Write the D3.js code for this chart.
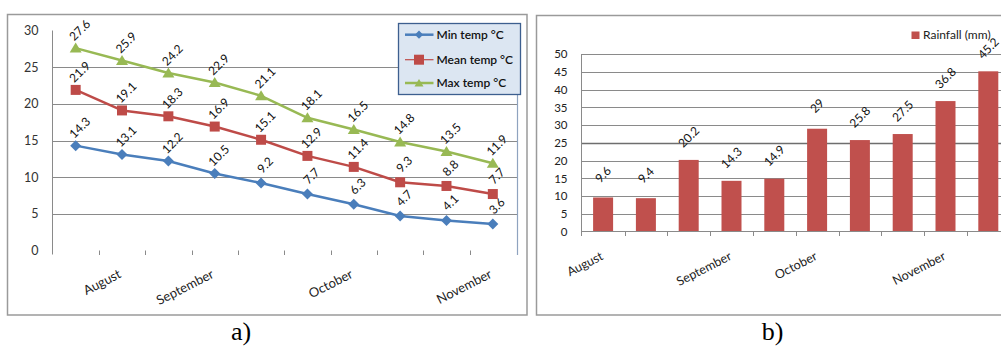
<!DOCTYPE html>
<html><head><meta charset="utf-8">
<script src="https://cdn.jsdelivr.net/npm/d3@7"></script>
<style>html,body{margin:0;padding:0;background:#fff;overflow:hidden}</style>
</head><body><svg id="c" width="1001" height="347"></svg>
<script>
const tempCategories = ["", "August", "", "September", "", "", "October", "", "", "November"];
const minTemp = [14.3, 13.1, 12.2, 10.5, 9.2, 7.7, 6.3, 4.7, 4.1, 3.6];
const meanTemp = [21.9, 19.1, 18.3, 16.9, 15.1, 12.9, 11.4, 9.3, 8.8, 7.7];
const maxTemp = [27.6, 25.9, 24.2, 22.9, 21.1, 18.1, 16.5, 14.8, 13.5, 11.9];
const tempSeriesNames = ["Min temp °C", "Mean temp °C", "Max temp °C"];
const tempTicks = [0, 5, 10, 15, 20, 25, 30];

const rainCategories = ["August", "", "", "September", "", "October", "", "", "November", ""];
const rainfall = [9.6, 9.4, 20.2, 14.3, 14.9, 29, 25.8, 27.5, 36.8, 45.2];
const rainSeriesName = "Rainfall (mm)";
const rainTicks = [0, 5, 10, 15, 20, 25, 30, 35, 40, 45, 50];

const captions = ["a)", "b)"];

const FONT = "Lato, 'Open Sans', sans-serif";
const GRID = "#8a8a8a";
const svg = d3.select("#c");

/* ---------------- chart a) ---------------- */
const gA = svg.append("g");
gA.append("rect").attr("x", 7.5).attr("y", 14.5).attr("width", 519.5).attr("height", 300.5)
  .attr("fill", "#fff").attr("stroke", "#9a9a9a").attr("stroke-width", 1.5);

const xL = d3.scaleBand().domain(d3.range(tempCategories.length)).range([52.5, 516]).padding(0);
const yL = d3.scaleLinear().domain([0, 30]).range([250.5, 30.5]);
const bwL = xL.bandwidth();
const cxL = i => xL(i) + bwL / 2;

gA.append("g").selectAll("line").data(tempTicks.filter(t => t > 0 && t < 30)).join("line")
  .attr("x1", 52.5).attr("x2", 517).attr("y1", d => Math.round(yL(d)) + 0.5).attr("y2", d => Math.round(yL(d)) + 0.5)
  .attr("stroke", GRID).attr("stroke-width", 1);
gA.append("line").attr("x1", 517.5).attr("x2", 517.5).attr("y1", 30).attr("y2", 255)
  .attr("stroke", "#8fa3bf").attr("stroke-width", 1.2);
gA.append("line").attr("x1", 52.5).attr("x2", 52.5).attr("y1", 30.5).attr("y2", 254.5)
  .attr("stroke", GRID).attr("stroke-width", 1);
gA.append("g").selectAll("line").data(d3.range(1, tempCategories.length)).join("line")
  .attr("x1", i => Math.round(xL(i)) + 0.5).attr("x2", i => Math.round(xL(i)) + 0.5)
  .attr("y1", 250.5).attr("y2", 255).attr("stroke", GRID);
const axL = gA.append("g").attr("transform", "translate(52.5,0)")
  .call(d3.axisLeft(yL).tickValues(tempTicks).tickSize(0).tickPadding(14));
axL.select(".domain").remove();
axL.selectAll("text").attr("font-family", FONT).attr("font-size", 12.5).attr("fill", "#333");
gA.append("g").selectAll("text").data(tempCategories.map((c, i) => ({c, i})).filter(d => d.c)).join("text")
  .attr("transform", d => `translate(${cxL(d.i)},277) rotate(-27)`)
  .attr("text-anchor", "end").attr("font-family", FONT).attr("font-size", 13).attr("fill", "#222")
  .text(d => d.c);

const seriesL = [
  {name: tempSeriesNames[0], vals: minTemp, color: "#4A7EBB", shape: "diamond", lw: 2.5},
  {name: tempSeriesNames[1], vals: meanTemp, color: "#BE4B48", shape: "square", lw: 2.5},
  {name: tempSeriesNames[2], vals: maxTemp, color: "#98B954", shape: "triangle", lw: 2.5}
];
function markerPath(shape) {
  if (shape === "diamond") return "M0,-5.5L5.5,0L0,5.5L-5.5,0Z";
  if (shape === "square") return "M-5,-5H5V5H-5Z";
  return "M0,-5.5L6,4.5H-6Z";
}
const line = d3.line().x((d, i) => cxL(i)).y(d => yL(d));
seriesL.forEach(s => {
  gA.append("path").datum(s.vals).attr("d", line).attr("fill", "none")
    .attr("stroke", s.color).attr("stroke-width", s.lw).attr("stroke-linejoin", "round");
});
seriesL.forEach(s => {
  gA.append("g").selectAll("path").data(s.vals).join("path")
    .attr("transform", (d, i) => `translate(${cxL(i)},${yL(d)})`)
    .attr("d", markerPath(s.shape)).attr("fill", s.color);
});
seriesL.forEach(s => {
  gA.append("g").selectAll("text").data(s.vals).join("text")
    .attr("transform", (d, i) => `translate(${cxL(i) + 7},${yL(d) - 15}) rotate(-45)`)
    .attr("text-anchor", "middle").attr("font-family", FONT).attr("font-size", 12).attr("fill", "#111")
    .text(d => d);
});
const lg = gA.append("g");
lg.append("rect").attr("x", 398.5).attr("y", 23.5).attr("width", 122).attr("height", 71)
  .attr("fill", "#dce6f2").attr("stroke", "#3d5f8f").attr("stroke-width", 1.3);
const legY = [34.7, 59.7, 83];
seriesL.forEach((s, k) => {
  lg.append("line").attr("x1", 405).attr("x2", 433.5).attr("y1", legY[k]).attr("y2", legY[k])
    .attr("stroke", s.color).attr("stroke-width", k === 1 ? 1.2 : 2.5);
  lg.append("path").attr("transform", `translate(419,${legY[k]}) scale(${k === 1 ? 1 : 0.75})`)
    .attr("d", markerPath(s.shape)).attr("fill", s.color);
  lg.append("text").attr("x", 436.5).attr("y", legY[k]).attr("dy", "0.35em")
    .attr("font-family", FONT).attr("font-size", 12).attr("font-weight", 600).attr("fill", "#111").text(s.name);
});

/* ---------------- chart b) ---------------- */
const gB = svg.append("g");
gB.append("rect").attr("x", 536.5).attr("y", 15.5).attr("width", 480).attr("height", 299.5)
  .attr("fill", "#fff").attr("stroke", "#9a9a9a").attr("stroke-width", 1.5);

const xR = d3.scaleBand().domain(d3.range(rainfall.length)).range([581.7, 1009.7]).padding(0);
const yR = d3.scaleLinear().domain([0, 50]).range([231.5, 54.3]);
const bwR = xR.bandwidth();
const cxR = i => xR(i) + bwR / 2;
const barW = 20;

gB.append("g").selectAll("line").data(rainTicks.filter(t => t > 0)).join("line")
  .attr("x1", 581.5).attr("x2", 1001).attr("y1", d => Math.round(yR(d)) + 0.5).attr("y2", d => Math.round(yR(d)) + 0.5)
  .attr("stroke", d => d === 25 ? "#6e6e6e" : GRID).attr("stroke-width", d => d === 25 ? 1.6 : 1);
gB.append("line").attr("x1", 581.5).attr("x2", 581.5).attr("y1", 54).attr("y2", 236)
  .attr("stroke", GRID);
gB.append("g").selectAll("rect").data(rainfall).join("rect")
  .attr("x", (d, i) => cxR(i) - barW / 2).attr("width", barW)
  .attr("y", d => yR(d)).attr("height", d => yR(0) - yR(d)).attr("fill", "#C0504D");
gB.append("line").attr("x1", 581.5).attr("x2", 1001).attr("y1", 231.5).attr("y2", 231.5).attr("stroke", GRID);
gB.append("g").selectAll("line").data(d3.range(1, rainfall.length)).join("line")
  .attr("x1", i => Math.round(xR(i)) + 0.5).attr("x2", i => Math.round(xR(i)) + 0.5)
  .attr("y1", 231.5).attr("y2", 236).attr("stroke", GRID);
const axR = gB.append("g").attr("transform", "translate(581.5,0)")
  .call(d3.axisLeft(yR).tickValues(rainTicks).tickSize(0).tickPadding(14));
axR.select(".domain").remove();
axR.selectAll("text").attr("font-family", FONT).attr("font-size", 11.5).attr("fill", "#222");
gB.append("g").selectAll("text").data(rainCategories.map((c, i) => ({c, i})).filter(d => d.c)).join("text")
  .attr("transform", d => `translate(${cxR(d.i) + 1},259) rotate(-27)`)
  .attr("text-anchor", "end").attr("font-family", FONT).attr("font-size", 12.5).attr("fill", "#222")
  .text(d => d.c);
gB.append("g").selectAll("text").data(rainfall).join("text")
  .attr("transform", (d, i) => `translate(${cxR(i) + 3},${yR(d) - 20}) rotate(-45)`)
  .attr("text-anchor", "middle").attr("font-family", FONT).attr("font-size", 12).attr("fill", "#111")
  .text(d => d);
gB.append("rect").attr("x", 911.5).attr("y", 31.5).attr("width", 8).attr("height", 7.5).attr("fill", "#C0504D");
gB.append("text").attr("x", 923).attr("y", 35.2).attr("dy", "0.35em").attr("font-family", FONT)
  .attr("font-size", 12).attr("fill", "#222").text(rainSeriesName);

svg.append("g").selectAll("text").data(captions).join("text")
  .attr("x", (d, i) => [241, 772.5][i]).attr("y", 340).attr("text-anchor", "middle")
  .attr("font-family", "'Liberation Serif', 'Times New Roman', serif").attr("font-size", 26).attr("fill", "#000")
  .text(d => d);
</script></body></html>
